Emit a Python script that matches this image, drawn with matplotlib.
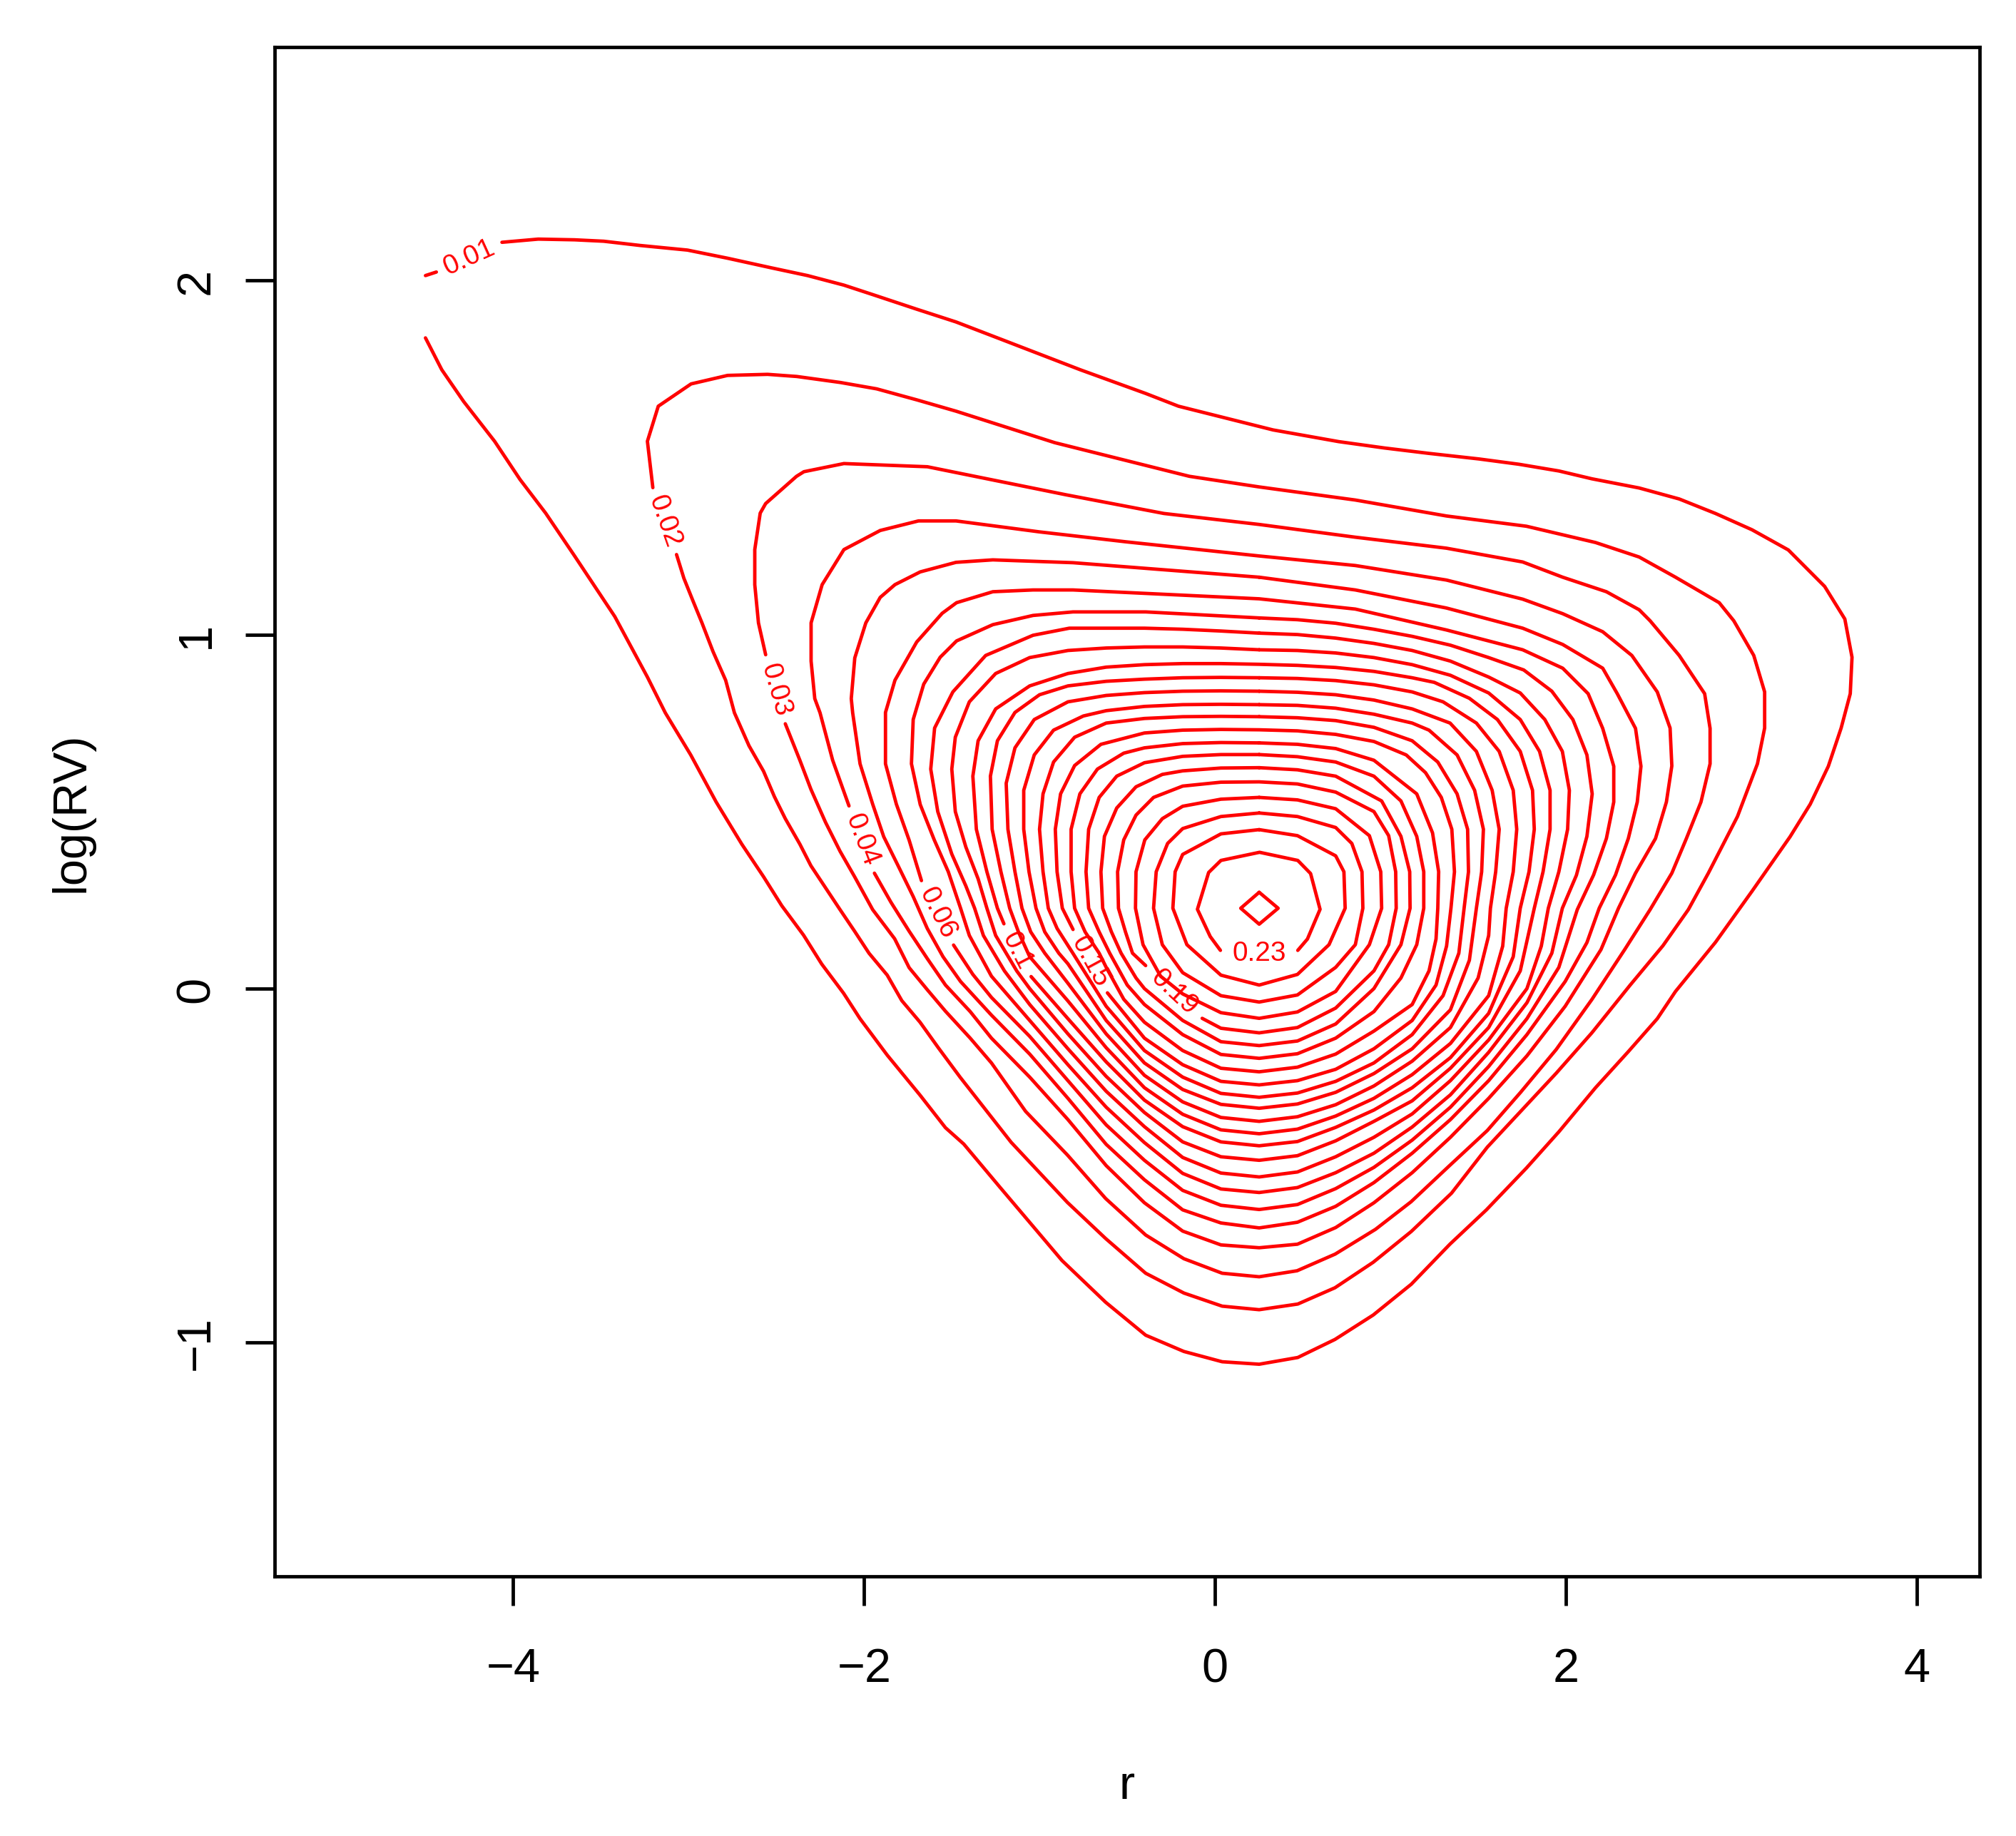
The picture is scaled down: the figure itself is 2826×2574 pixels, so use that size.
import matplotlib
matplotlib.use("Agg")
import matplotlib.pyplot as plt

plt.rcParams['font.family'] = ['Liberation Sans', 'DejaVu Sans']

# contour levels of the density of (r, log(RV)); each path
# open paths stop at the gap where R put the level label
c01a = [(-4.500, 2.014), (-4.438, 2.024)]
c01b = [(-4.064, 2.108), (-3.857, 2.117), (-3.650, 2.115), (-3.484, 2.111), (-3.276, 2.099),
        (-3.007, 2.086), (-2.778, 2.063), (-2.530, 2.036), (-2.322, 2.014), (-2.115, 1.987),
        (-1.949, 1.960), (-1.700, 1.919), (-1.476, 1.883), (-1.224, 1.835), (-0.768, 1.748),
        (-0.395, 1.681), (-0.208, 1.645), (0.331, 1.578), (0.705, 1.545), (0.966, 1.527),
        (1.215, 1.512), (1.505, 1.496), (1.733, 1.481), (1.961, 1.462), (2.148, 1.440),
        (2.418, 1.414), (2.646, 1.383), (2.853, 1.342), (3.061, 1.296), (3.268, 1.239),
        (3.475, 1.136), (3.590, 1.044), (3.631, 0.936), (3.621, 0.833), (3.569, 0.736),
        (3.496, 0.628), (3.393, 0.521), (3.278, 0.429), (3.061, 0.275), (2.853, 0.131),
        (2.625, -0.008), (2.521, -0.085), (2.356, -0.178), (2.169, -0.280), (1.961, -0.404),
        (1.775, -0.507), (1.547, -0.625), (1.339, -0.722), (1.119, -0.835), (0.902, -0.922),
        (0.684, -0.991), (0.472, -1.042), (0.252, -1.061), (0.041, -1.054), (-0.177, -1.025),
        (-0.395, -0.979), (-0.623, -0.886), (-0.872, -0.768), (-1.224, -0.562), (-1.432, -0.439),
        (-1.536, -0.393), (-1.681, -0.301), (-1.868, -0.188), (-2.023, -0.085), (-2.117, -0.013),
        (-2.241, 0.069), (-2.345, 0.151), (-2.469, 0.234), (-2.573, 0.316), (-2.697, 0.408),
        (-2.843, 0.527), (-2.988, 0.660), (-3.133, 0.779), (-3.235, 0.880), (-3.421, 1.051),
        (-3.650, 1.222), (-3.815, 1.343), (-3.961, 1.438), (-4.106, 1.546), (-4.282, 1.658),
        (-4.407, 1.748), (-4.500, 1.838)]
c02 = [(-3.069, 1.226), (-3.027, 1.159), (-2.976, 1.096), (-2.924, 1.033), (-2.861, 0.952),
       (-2.789, 0.871), (-2.739, 0.779), (-2.656, 0.686), (-2.573, 0.614), (-2.511, 0.542),
       (-2.449, 0.480), (-2.366, 0.408), (-2.303, 0.347), (-2.220, 0.285), (-2.137, 0.223),
       (-2.054, 0.162), (-1.972, 0.100), (-1.868, 0.038), (-1.785, -0.034), (-1.681, -0.095),
       (-1.577, -0.167), (-1.453, -0.250), (-1.162, -0.434), (-0.841, -0.604), (-0.623, -0.706),
       (-0.395, -0.804), (-0.177, -0.860), (0.041, -0.897), (0.252, -0.907), (0.472, -0.891),
       (0.684, -0.845), (0.902, -0.773), (1.119, -0.686), (1.348, -0.578), (1.552, -0.448),
       (1.742, -0.347), (1.945, -0.239), (2.148, -0.125), (2.365, 0.009), (2.553, 0.121),
       (2.698, 0.223), (2.812, 0.326), (2.978, 0.486), (3.092, 0.635), (3.133, 0.736),
       (3.133, 0.838), (3.071, 0.941), (2.957, 1.039), (2.874, 1.090), (2.625, 1.162),
       (2.418, 1.219), (2.169, 1.260), (1.775, 1.306), (1.319, 1.335), (0.800, 1.380),
       (0.252, 1.417), (-0.146, 1.447), (-0.913, 1.542), (-1.476, 1.631), (-1.700, 1.663),
       (-1.928, 1.694), (-2.135, 1.712), (-2.384, 1.729), (-2.550, 1.735), (-2.778, 1.732),
       (-2.986, 1.708), (-3.173, 1.645), (-3.235, 1.546), (-3.204, 1.415)]
c03 = [(-2.449, 0.748), (-2.366, 0.645), (-2.303, 0.563), (-2.220, 0.470), (-2.137, 0.388),
       (-2.054, 0.316), (-1.951, 0.223), (-1.826, 0.141), (-1.743, 0.059), (-1.640, -0.003),
       (-1.536, -0.064), (-1.395, -0.140), (-1.274, -0.210), (-1.079, -0.347), (-0.841, -0.470),
       (-0.623, -0.593), (-0.395, -0.696), (-0.177, -0.763), (0.041, -0.804), (0.252, -0.814),
       (0.468, -0.797), (0.685, -0.750), (0.915, -0.680), (1.118, -0.602), (1.335, -0.501),
       (1.552, -0.401), (1.742, -0.293), (1.945, -0.172), (2.148, -0.031), (2.335, 0.110),
       (2.480, 0.223), (2.604, 0.326), (2.687, 0.424), (2.770, 0.527), (2.822, 0.635),
       (2.822, 0.735), (2.791, 0.833), (2.646, 0.941), (2.480, 1.039), (2.418, 1.070),
       (2.231, 1.121), (1.982, 1.162), (1.754, 1.205), (1.319, 1.244), (0.800, 1.275),
       (0.252, 1.311), (-0.291, 1.342), (-0.851, 1.395), (-1.639, 1.474), (-2.115, 1.483),
       (-2.343, 1.460), (-2.385, 1.447), (-2.561, 1.370), (-2.592, 1.343), (-2.623, 1.240),
       (-2.623, 1.141), (-2.602, 1.033), (-2.561, 0.943)]
c04 = [(-1.941, 0.326), (-1.847, 0.244), (-1.743, 0.162), (-1.640, 0.085), (-1.536, 0.010),
       (-1.395, -0.065), (-1.274, -0.140), (-1.056, -0.250), (-0.838, -0.370), (-0.620, -0.500),
       (-0.402, -0.605), (-0.184, -0.685), (0.034, -0.724), (0.252, -0.732), (0.470, -0.722),
       (0.688, -0.675), (0.906, -0.605), (1.124, -0.520), (1.342, -0.420), (1.560, -0.310),
       (1.778, -0.190), (1.996, -0.050), (2.200, 0.110), (2.300, 0.227), (2.397, 0.326),
       (2.511, 0.424), (2.573, 0.527), (2.604, 0.629), (2.594, 0.736), (2.521, 0.838),
       (2.376, 0.941), (2.210, 1.008), (1.982, 1.059), (1.754, 1.100), (1.319, 1.154),
       (0.800, 1.195), (0.252, 1.222), (-0.508, 1.262), (-1.000, 1.290), (-1.476, 1.321),
       (-1.690, 1.321), (-1.908, 1.294), (-2.115, 1.240), (-2.239, 1.141), (-2.302, 1.033),
       (-2.302, 0.925), (-2.281, 0.819), (-2.251, 0.779), (-2.179, 0.645), (-2.086, 0.516)]
c05 = [(0.252, 1.162), (-0.809, 1.203), (-1.266, 1.211), (-1.476, 1.204), (-1.680, 1.177),
       (-1.824, 1.141), (-1.908, 1.105), (-1.990, 1.033), (-2.053, 0.934), (-2.073, 0.819),
       (-2.065, 0.779), (-2.023, 0.635), (-1.951, 0.521), (-1.888, 0.429), (-1.806, 0.347),
       (-1.720, 0.260), (-1.640, 0.170), (-1.550, 0.090), (-1.450, 0.020), (-1.274, -0.075),
       (-1.056, -0.185), (-0.838, -0.310), (-0.620, -0.440), (-0.402, -0.540), (-0.184, -0.625),
       (0.034, -0.662), (0.252, -0.676), (0.470, -0.660), (0.688, -0.615), (0.906, -0.548),
       (1.124, -0.465), (1.342, -0.370), (1.560, -0.260), (1.778, -0.130), (1.996, 0.020),
       (2.120, 0.130), (2.190, 0.227), (2.283, 0.321), (2.356, 0.424), (2.407, 0.527),
       (2.428, 0.628), (2.397, 0.735), (2.293, 0.833), (2.210, 0.905), (1.982, 0.972),
       (1.754, 1.018), (1.319, 1.075), (0.800, 1.126)]
c06 = [(-1.490, 0.123), (-1.380, 0.040), (-1.274, -0.025), (-1.056, -0.135), (-0.838, -0.260),
       (-0.620, -0.385), (-0.402, -0.485), (-0.184, -0.570), (0.034, -0.612), (0.252, -0.624),
       (0.470, -0.610), (0.688, -0.565), (0.906, -0.505), (1.124, -0.428), (1.342, -0.335),
       (1.560, -0.220), (1.778, -0.085), (1.960, 0.060), (2.065, 0.223), (2.158, 0.321),
       (2.231, 0.424), (2.273, 0.527), (2.273, 0.628), (2.210, 0.735), (2.127, 0.833),
       (1.982, 0.905), (1.754, 0.957), (1.319, 1.013), (0.800, 1.072), (0.252, 1.101),
       (-0.809, 1.126), (-1.037, 1.126), (-1.266, 1.121), (-1.473, 1.090), (-1.555, 1.060),
       (-1.700, 0.979), (-1.824, 0.871), (-1.878, 0.780), (-1.878, 0.635), (-1.816, 0.521),
       (-1.743, 0.419), (-1.673, 0.305)]
c07 = [(0.252, 1.047), (-0.395, 1.064), (-0.809, 1.064), (-1.037, 1.054), (-1.266, 1.028),
       (-1.473, 0.982), (-1.566, 0.936), (-1.660, 0.860), (-1.720, 0.760), (-1.730, 0.635),
       (-1.680, 0.520), (-1.600, 0.420), (-1.520, 0.330), (-1.450, 0.227), (-1.400, 0.150),
       (-1.274, 0.035), (-1.056, -0.090), (-0.838, -0.215), (-0.620, -0.335), (-0.402, -0.435),
       (-0.184, -0.522), (0.034, -0.566), (0.252, -0.576), (0.470, -0.562), (0.688, -0.520),
       (0.906, -0.465), (1.124, -0.391), (1.342, -0.300), (1.560, -0.180), (1.778, -0.040),
       (1.920, 0.100), (1.980, 0.227), (2.060, 0.320), (2.120, 0.430), (2.150, 0.550),
       (2.120, 0.660), (2.040, 0.760), (1.920, 0.840), (1.760, 0.900), (1.560, 0.935),
       (1.342, 0.970), (1.124, 0.995), (0.906, 1.015), (0.688, 1.032), (0.470, 1.042)]
c08 = [(0.252, 1.004), (0.034, 1.010), (-0.184, 1.015), (-0.402, 1.018), (-0.830, 1.018),
       (-1.037, 0.998), (-1.307, 0.941), (-1.494, 0.838), (-1.598, 0.736), (-1.620, 0.620),
       (-1.580, 0.500), (-1.500, 0.380), (-1.420, 0.290), (-1.370, 0.227), (-1.320, 0.150),
       (-1.200, 0.050), (-1.056, -0.045), (-0.838, -0.170), (-0.620, -0.290), (-0.402, -0.390),
       (-0.184, -0.477), (0.034, -0.521), (0.252, -0.532), (0.470, -0.518), (0.688, -0.475),
       (0.906, -0.420), (1.124, -0.354), (1.342, -0.260), (1.560, -0.145), (1.778, 0.000),
       (1.860, 0.120), (1.900, 0.227), (1.960, 0.330), (2.010, 0.450), (2.020, 0.560),
       (1.980, 0.670), (1.880, 0.760), (1.740, 0.835), (1.560, 0.880), (1.342, 0.925),
       (1.124, 0.955), (0.906, 0.975), (0.688, 0.990), (0.470, 1.000)]
c09 = [(0.252, 0.957), (0.034, 0.962), (-0.184, 0.965), (-0.402, 0.965), (-0.620, 0.962),
       (-0.838, 0.955), (-1.056, 0.935), (-1.250, 0.890), (-1.400, 0.810), (-1.480, 0.710),
       (-1.500, 0.620), (-1.480, 0.500), (-1.420, 0.400), (-1.350, 0.310), (-1.300, 0.227),
       (-1.250, 0.150), (-1.130, 0.050), (-1.056, 0.000), (-0.838, -0.128), (-0.620, -0.248),
       (-0.402, -0.350), (-0.184, -0.433), (0.034, -0.475), (0.252, -0.485), (0.470, -0.472),
       (0.688, -0.430), (0.906, -0.375), (1.124, -0.317), (1.342, -0.225), (1.560, -0.110),
       (1.740, 0.050), (1.820, 0.227), (1.870, 0.330), (1.910, 0.450), (1.910, 0.560),
       (1.850, 0.670), (1.740, 0.760), (1.560, 0.835), (1.342, 0.885), (1.124, 0.915),
       (0.906, 0.935), (0.688, 0.948), (0.470, 0.955)]
c10 = [(-1.048, 0.034), (-0.838, -0.085), (-0.620, -0.207), (-0.402, -0.315), (-0.184, -0.390),
       (0.034, -0.433), (0.252, -0.444), (0.470, -0.432), (0.688, -0.392), (0.906, -0.343),
       (1.124, -0.280), (1.342, -0.195), (1.560, -0.070), (1.700, 0.090), (1.740, 0.227),
       (1.790, 0.330), (1.820, 0.450), (1.810, 0.560), (1.740, 0.670), (1.610, 0.760),
       (1.450, 0.820), (1.250, 0.865), (1.124, 0.878), (0.906, 0.896), (0.688, 0.907),
       (0.470, 0.913), (0.252, 0.916), (0.034, 0.918), (-0.184, 0.918), (-0.402, 0.915),
       (-0.620, 0.908), (-0.838, 0.890), (-1.056, 0.855), (-1.250, 0.790), (-1.350, 0.700),
       (-1.380, 0.600), (-1.360, 0.450), (-1.300, 0.330), (-1.240, 0.227), (-1.203, 0.183)]
c11 = [(0.252, 0.878), (0.034, 0.879), (-0.184, 0.878), (-0.402, 0.874), (-0.620, 0.868),
       (-0.838, 0.855), (-1.000, 0.830), (-1.140, 0.780), (-1.240, 0.700), (-1.280, 0.600),
       (-1.270, 0.450), (-1.220, 0.330), (-1.170, 0.227), (-1.120, 0.160), (-1.056, 0.090),
       (-0.838, -0.035), (-0.620, -0.167), (-0.402, -0.280), (-0.184, -0.355), (0.034, -0.399),
       (0.252, -0.410), (0.470, -0.397), (0.688, -0.360), (0.906, -0.310), (1.124, -0.243),
       (1.342, -0.155), (1.560, -0.020), (1.640, 0.120), (1.660, 0.227), (1.700, 0.330),
       (1.720, 0.450), (1.700, 0.560), (1.620, 0.670), (1.490, 0.750), (1.300, 0.810),
       (1.124, 0.838), (0.906, 0.858), (0.688, 0.870), (0.470, 0.876)]
c12 = [(0.252, 0.840), (0.034, 0.841), (-0.184, 0.840), (-0.402, 0.836), (-0.620, 0.828),
       (-0.838, 0.810), (-1.030, 0.760), (-1.140, 0.680), (-1.190, 0.580), (-1.180, 0.450),
       (-1.140, 0.330), (-1.100, 0.227), (-1.050, 0.160), (-0.970, 0.100), (-0.838, 0.015),
       (-0.620, -0.128), (-0.402, -0.245), (-0.184, -0.320), (0.034, -0.364), (0.252, -0.375),
       (0.470, -0.362), (0.688, -0.328), (0.906, -0.275), (1.124, -0.205), (1.342, -0.110),
       (1.500, 0.030), (1.560, 0.150), (1.570, 0.227), (1.600, 0.330), (1.620, 0.450),
       (1.580, 0.560), (1.490, 0.670), (1.340, 0.750), (1.124, 0.790), (0.906, 0.815),
       (0.688, 0.830), (0.470, 0.837)]
c13 = [(0.252, 0.802), (0.034, 0.803), (-0.184, 0.802), (-0.402, 0.797), (-0.620, 0.785),
       (-0.750, 0.770), (-0.920, 0.730), (-1.030, 0.660), (-1.090, 0.560), (-1.090, 0.450),
       (-1.060, 0.330), (-1.020, 0.227), (-0.970, 0.160), (-0.890, 0.100), (-0.838, 0.070),
       (-0.620, -0.090), (-0.402, -0.210), (-0.184, -0.285), (0.034, -0.327), (0.252, -0.338),
       (0.470, -0.326), (0.688, -0.293), (0.906, -0.240), (1.124, -0.170), (1.342, -0.060),
       (1.450, 0.080), (1.490, 0.227), (1.520, 0.330), (1.530, 0.450), (1.480, 0.560),
       (1.380, 0.660), (1.220, 0.730), (1.124, 0.750), (0.906, 0.775), (0.688, 0.792),
       (0.470, 0.800)]
c14 = [(0.252, 0.768), (0.034, 0.769), (-0.184, 0.768), (-0.402, 0.763), (-0.620, 0.750),
       (-0.800, 0.710), (-0.920, 0.640), (-0.980, 0.550), (-1.000, 0.450), (-0.980, 0.330),
       (-0.950, 0.227), (-0.900, 0.170), (-0.810, 0.100), (-0.620, -0.050), (-0.402, -0.175),
       (-0.184, -0.250), (0.034, -0.296), (0.252, -0.307), (0.470, -0.295), (0.688, -0.262),
       (0.906, -0.210), (1.124, -0.130), (1.300, -0.020), (1.390, 0.100), (1.420, 0.227),
       (1.445, 0.330), (1.440, 0.450), (1.380, 0.550), (1.270, 0.640), (1.124, 0.700),
       (0.906, 0.738), (0.688, 0.757), (0.470, 0.765)]
c15 = [(-0.613, -0.012), (-0.402, -0.140), (-0.184, -0.215), (0.034, -0.262), (0.252, -0.272),
       (0.470, -0.260), (0.688, -0.228), (0.906, -0.170), (1.124, -0.090), (1.260, 0.010),
       (1.320, 0.120), (1.345, 0.227), (1.365, 0.330), (1.350, 0.450), (1.290, 0.540),
       (1.200, 0.610), (1.090, 0.660), (0.906, 0.698), (0.688, 0.718), (0.470, 0.728),
       (0.252, 0.731), (0.034, 0.732), (-0.184, 0.730), (-0.402, 0.722), (-0.650, 0.690),
       (-0.800, 0.630), (-0.880, 0.550), (-0.910, 0.450), (-0.900, 0.330), (-0.870, 0.227),
       (-0.809, 0.167)]
c16 = [(0.252, 0.694), (0.034, 0.695), (-0.184, 0.692), (-0.402, 0.680), (-0.520, 0.665),
       (-0.670, 0.620), (-0.770, 0.550), (-0.820, 0.450), (-0.820, 0.330), (-0.800, 0.227),
       (-0.740, 0.160), (-0.660, 0.100), (-0.620, 0.060), (-0.520, -0.030), (-0.402, -0.095),
       (-0.184, -0.175), (0.034, -0.225), (0.252, -0.235), (0.470, -0.222), (0.688, -0.185),
       (0.906, -0.120), (1.124, -0.045), (1.220, 0.050), (1.260, 0.140), (1.270, 0.227),
       (1.275, 0.330), (1.240, 0.440), (1.150, 0.550), (0.906, 0.645), (0.688, 0.678),
       (0.470, 0.690)]
c17 = [(0.252, 0.661), (0.034, 0.661), (-0.184, 0.656), (-0.402, 0.638), (-0.560, 0.600),
       (-0.660, 0.540), (-0.720, 0.450), (-0.735, 0.330), (-0.720, 0.227), (-0.660, 0.160),
       (-0.600, 0.100), (-0.500, 0.010), (-0.402, -0.045), (-0.184, -0.130), (0.034, -0.186),
       (0.252, -0.197), (0.470, -0.184), (0.688, -0.140), (0.906, -0.065), (1.060, 0.030),
       (1.150, 0.124), (1.190, 0.227), (1.190, 0.330), (1.150, 0.430), (1.060, 0.530),
       (0.906, 0.600), (0.688, 0.640), (0.470, 0.655)]
c18 = [(0.252, 0.624), (0.034, 0.623), (-0.184, 0.615), (-0.300, 0.605), (-0.450, 0.570),
       (-0.560, 0.510), (-0.630, 0.430), (-0.650, 0.330), (-0.640, 0.227), (-0.590, 0.160),
       (-0.535, 0.100), (-0.450, 0.030), (-0.402, 0.000), (-0.184, -0.090), (0.034, -0.150),
       (0.252, -0.161), (0.470, -0.148), (0.688, -0.100), (0.906, 0.000), (1.060, 0.124),
       (1.112, 0.227), (1.110, 0.330), (1.060, 0.430), (0.950, 0.530), (0.688, 0.600),
       (0.470, 0.618)]
c19 = [(-0.073, -0.084), (0.034, -0.112), (0.252, -0.125), (0.470, -0.110), (0.688, -0.055),
       (0.906, 0.050), (0.990, 0.124), (1.033, 0.227), (1.030, 0.330), (0.990, 0.432),
       (0.906, 0.500), (0.688, 0.555), (0.470, 0.578), (0.252, 0.584), (0.034, 0.583),
       (-0.184, 0.572), (-0.350, 0.540), (-0.450, 0.490), (-0.520, 0.420), (-0.555, 0.330),
       (-0.550, 0.227), (-0.510, 0.160), (-0.470, 0.100), (-0.395, 0.065)]
c20 = [(0.252, 0.540), (0.034, 0.535), (-0.184, 0.515), (-0.300, 0.480), (-0.400, 0.420),
       (-0.450, 0.330), (-0.453, 0.227), (-0.410, 0.124), (-0.310, 0.035), (-0.184, -0.015),
       (0.034, -0.068), (0.252, -0.084), (0.470, -0.066), (0.688, -0.008), (0.880, 0.124),
       (0.950, 0.227), (0.945, 0.330), (0.880, 0.432), (0.688, 0.508), (0.470, 0.533)]
c21 = [(0.252, 0.496), (0.034, 0.486), (-0.184, 0.452), (-0.270, 0.410), (-0.335, 0.330),
       (-0.350, 0.227), (-0.300, 0.124), (-0.184, 0.045), (0.034, -0.020), (0.252, -0.038),
       (0.470, -0.018), (0.688, 0.060), (0.800, 0.124), (0.843, 0.227), (0.838, 0.330),
       (0.780, 0.410), (0.688, 0.455), (0.470, 0.486)]
c22 = [(0.252, 0.449), (0.034, 0.437), (-0.184, 0.379), (-0.227, 0.330), (-0.240, 0.227),
       (-0.160, 0.124), (0.034, 0.038), (0.252, 0.010), (0.470, 0.040), (0.650, 0.124),
       (0.742, 0.227), (0.735, 0.330), (0.688, 0.375), (0.470, 0.432)]
c23 = [(0.472, 0.108), (0.527, 0.140), (0.599, 0.224), (0.545, 0.325), (0.472, 0.362),
       (0.254, 0.385), (0.034, 0.362), (-0.036, 0.328), (-0.100, 0.224), (-0.027, 0.147),
       (0.031, 0.108)]
c24 = [(0.252, 0.272), (0.147, 0.227), (0.252, 0.182), (0.360, 0.227)]

closed_paths = [c05, c07, c08, c09, c11, c12, c13, c14, c16, c17, c18, c20, c21, c22, c24]
open_paths = [c01a, c01b, c02, c03, c04, c06, c10, c15, c19, c23]

# level labels: text, centre (r, log RV) and angle along the line
label_text = ['0.01', '0.02', '0.03', '0.04', '0.06', '0.1', '0.15', '0.19', '0.23']
label_r = [-4.251, -3.137, -2.505, -2.013, -1.582, -1.126, -0.711, -0.234, 0.252]
label_v = [2.066, 1.321, 0.846, 0.421, 0.214, 0.109, 0.078, -0.010, 0.100]
label_rot = [24.4, -70.5, -74.1, -69.2, -63.5, -62.7, -61.5, -43.0, 0.0]

x_ticks = [-4, -2, 0, 2, 4]
y_ticks = [-1, 0, 1, 2]


def draw_path(ax, pts, close):
    if close:
        pts = pts + pts[:1]
    xs = [p[0] for p in pts]
    ys = [p[1] for p in pts]
    ax.plot(xs, ys, color='#ff0000', lw=1.15,
            solid_joinstyle='round', solid_capstyle='round')


fig = plt.figure(figsize=(9.42, 8.5833), dpi=300)
ax = fig.add_axes([0.1362, 0.1414, 0.8459, 0.8327])

for path in closed_paths:
    draw_path(ax, path, True)
for path in open_paths:
    draw_path(ax, path, False)

for txt, r, v, rot in zip(label_text, label_r, label_v, label_rot):
    ax.text(r, v, txt, color='#ff0000', fontsize=9.3, rotation=rot,
            rotation_mode='anchor', ha='center', va='center')

ax.set_xlim(-5.36, 4.36)
ax.set_ylim(-1.66, 2.66)
ax.set_xticks(x_ticks)
ax.set_yticks(y_ticks)
ax.set_xticklabels([str(t).replace('-', '\u2212') for t in x_ticks])
ax.set_yticklabels([str(t).replace('-', '\u2212') for t in y_ticks],
                   rotation=90, va='center')
ax.tick_params(axis='both', direction='out', length=9.8, width=1.15,
               labelsize=16, color='black')
ax.tick_params(axis='x', pad=14)
ax.tick_params(axis='y', pad=9)
for s in ax.spines.values():
    s.set_linewidth(1.15)

fig.text(0.5591, 0.0206, 'r', fontsize=16, ha='center', va='baseline')
fig.text(0.0355, 0.5577, 'log(RV)', fontsize=16, rotation=90,
         ha='center', va='center')

fig.savefig('out.png', dpi=300)
